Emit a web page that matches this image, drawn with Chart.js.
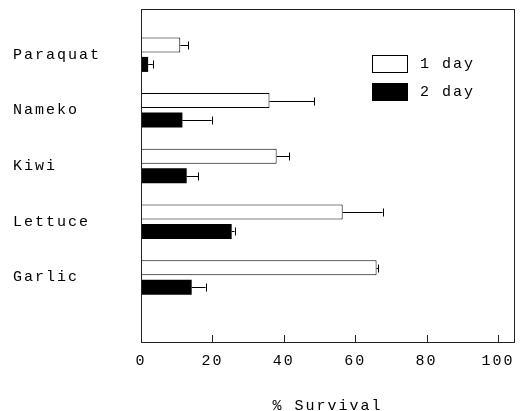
<!DOCTYPE html>
<html>
<head>
<meta charset="utf-8">
<script src="https://cdn.jsdelivr.net/npm/chart.js@4/dist/chart.umd.min.js"></script>
<style>
  body { margin: 0; background: #fff; }
  canvas { display: block; }
</style>
</head>
<body>
<canvas id="survivalChart" width="524" height="411"></canvas>
<script>
// data
const categories = ['Paraquat', 'Nameko', 'Kiwi', 'Lettuce', 'Garlic'];
const day1 = [11, 36, 38, 56.5, 66];
const day1Err = [2.3, 12.5, 3.6, 11.2, 0.4];
const day2 = [2, 11.6, 12.8, 25.4, 14.2];
const day2Err = [1.3, 8.2, 3.3, 0.8, 3.9];
const xTicks = [0, 20, 40, 60, 80, 100];

const FONT = { family: '"Liberation Mono", "DejaVu Sans Mono", monospace', size: 15, lineHeight: 1 };

// typewriter-like spacing for every text on the canvas
const spacingPlugin = {
    id: 'spacing',
    beforeUpdate(chart) { chart.ctx.letterSpacing = '2px'; },
    beforeDraw(chart) { chart.ctx.letterSpacing = '2px'; }
};

// frame, inward x ticks, error bars and the legend box
const decorPlugin = {
    id: 'decor',
    afterDatasetsDraw(chart) {
        const ctx = chart.ctx;
        const area = chart.chartArea;
        const xs = chart.scales.x;
        ctx.save();
        ctx.strokeStyle = '#000';
        ctx.lineWidth = 1;

        // error bars
        chart.data.datasets.forEach((ds, di) => {
            const meta = chart.getDatasetMeta(di);
            const errs = ds.errors;
            meta.data.forEach((bar, i) => {
                const val = ds.data[i].x;
                const x0 = xs.getPixelForValue(val);
                const x1 = xs.getPixelForValue(val + errs[i]);
                const y = Math.round(bar.y) + 0.5;
                ctx.beginPath();
                ctx.moveTo(x0, y);
                ctx.lineTo(x1, y);
                ctx.moveTo(Math.round(x1) + 0.5, y - 4);
                ctx.lineTo(Math.round(x1) + 0.5, y + 4);
                ctx.stroke();
            });
        });

        // frame
        ctx.strokeStyle = '#222';
        ctx.strokeRect(Math.round(area.left) + 0.5, Math.round(area.top) + 0.5,
            Math.round(area.right - area.left), Math.round(area.bottom - area.top));

        // ticks pointing up from the bottom edge
        xTicks.forEach(v => {
            const px = Math.round(xs.getPixelForValue(v)) + 0.5;
            ctx.beginPath();
            ctx.moveTo(px, area.bottom);
            ctx.lineTo(px, area.bottom - 7);
            ctx.stroke();
        });

        // legend inside the plot
        ctx.font = '15px ' + FONT.family;
        ctx.textBaseline = 'middle';
        ctx.textAlign = 'left';
        chart.data.datasets.forEach((ds, di) => {
            const bx = area.right - 142;
            const by = area.top + 46 + di * 28;
            ctx.fillStyle = ds.backgroundColor;
            ctx.fillRect(bx, by, 36, 18);
            ctx.strokeStyle = '#000';
            ctx.strokeRect(bx + 0.5, by + 0.5, 35, 17);
            ctx.fillStyle = '#000';
            ctx.fillText(ds.label, bx + 48, by + 9);
        });
        ctx.restore();
    }
};

const ctx = document.getElementById('survivalChart').getContext('2d');
new Chart(ctx, {
    type: 'bar',
    data: {
        datasets: [{
            label: '1 day',
            data: day1.map((v, i) => ({ x: v, y: i })),
            errors: day1Err,
            backgroundColor: '#fff',
            borderColor: '#000',
            borderWidth: 1,
            categoryPercentage: 0.7,
            barPercentage: 0.77
        }, {
            label: '2 day',
            data: day2.map((v, i) => ({ x: v, y: i })),
            errors: day2Err,
            backgroundColor: '#000',
            borderColor: '#000',
            borderWidth: 0,
            categoryPercentage: 0.7,
            barPercentage: 0.77
        }]
    },
    options: {
        indexAxis: 'y',
        responsive: false,
        animation: false,
        layout: { padding: { top: 9, right: 10, left: 13, bottom: -3 } },
        plugins: {
            legend: { display: false },
            tooltip: { enabled: false }
        },
        scales: {
            x: {
                type: 'linear',
                min: 0,
                max: 104.5,
                grid: { display: false, drawTicks: false },
                border: { display: false },
                afterBuildTicks: scale => { scale.ticks = xTicks.map(v => ({ value: v })); },
                afterFit: scale => { scale.paddingLeft = 0; scale.paddingRight = 0; },
                ticks: { color: '#000', font: FONT, padding: 12, maxRotation: 0 },
                title: {
                    display: true,
                    text: '% Survival',
                    color: '#000',
                    font: FONT,
                    padding: { top: 18, bottom: 0 }
                }
            },
            y: {
                type: 'linear',
                reverse: true,
                offset: false,
                min: -0.82,
                max: 5.16,
                grid: { display: false, drawTicks: false },
                border: { display: false },
                afterBuildTicks: scale => { scale.ticks = categories.map((c, i) => ({ value: i })); },
                afterFit: scale => {
                    scale.width = 128;
                    scale.paddingTop = 0;
                    scale.paddingBottom = 0;
                },
                ticks: {
                    color: '#000',
                    font: FONT,
                    crossAlign: 'far',
                    callback: v => categories[v]
                }
            }
        }
    },
    plugins: [spacingPlugin, decorPlugin]
});
</script>
</body>
</html>
